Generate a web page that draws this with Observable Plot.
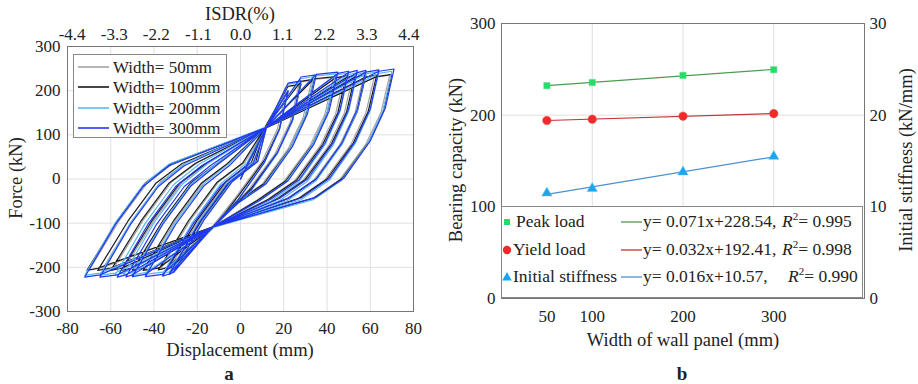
<!DOCTYPE html>
<html><head><meta charset="utf-8">
<script src="https://cdn.jsdelivr.net/npm/d3@7"></script>
<script src="https://cdn.jsdelivr.net/npm/@observablehq/plot@0.6"></script>
<style>
body{margin:0;background:#fff;}
#wrap{position:relative;width:918px;height:384px;font-family:"Liberation Serif","Times New Roman",serif;color:#222;overflow:hidden;}
#wrap svg.pl{position:absolute;top:0;}
.t{position:absolute;white-space:nowrap;font-size:18.5px;line-height:1;transform:translate(-50%,-50%);}
.rot{transform:translate(-50%,-50%) rotate(-90deg);}
.big{font-weight:bold;font-size:19px;}
.leg{position:absolute;background:#fff;border:1px solid #888;box-sizing:border-box;}
.row{position:absolute;white-space:nowrap;font-size:17px;line-height:1;}
.row svg{position:absolute;}
</style></head>
<body><div id="wrap"></div>
<script>
// ---------- Panel a data: hysteresis vertices [displacement mm, force kN] ----------
const seriesNames = ["Width= 50mm", "Width= 100mm", "Width= 200mm", "Width= 300mm"];
const seriesColors = ["#a3a3a3", "#1a1a1a", "#5cb8f5", "#2238f0"];
const dispTicks = [-80, -60, -40, -20, 0, 20, 40, 60, 80];
const forceTicks = [-300, -200, -100, 0, 100, 200, 300];
const isdrTicks = [-4.4, -3.3, -2.2, -1.1, 0.0, 1.1, 2.2, 3.3, 4.4];
const isdrLabels = ["-4.4", "-3.3", "-2.2", "-1.1", "0.0", "1.1", "2.2", "3.3", "4.4"];
const mmPerIsdr = 17.7;

const loop50 = [
 [0,0],[12,116],[21,196],[17,112],[10,40],[-2,-40],[-13,-108],[-31,-203],
 [-17,-91],[-4,-5],[8,39],[12,116],[21,208],[27,213],[23,129],[16,57],[4,-23],[-13,-108],[-31,-198],[-33,-203],
 [-19,-91],[-6,-5],[6,39],[12,116],[27,219],[33,224],[29,140],[22,68],[10,-12],[-3,-56],[-13,-108],[-33,-199],[-37,-204],
 [-23,-92],[-10,-6],[2,38],[12,116],[33,225],[43,230],[39,146],[32,74],[20,-6],[7,-50],[-13,-108],[-37,-200],[-44,-205],
 [-30,-93],[-17,-7],[-5,37],[12,116],[43,227],[48,232],[44,148],[37,76],[25,-4],[12,-48],[-13,-108],[-44,-200],[-49,-205],
 [-35,-93],[-22,-7],[-10,37],[12,116],[48,228],[52,233],[48,149],[41,77],[29,-3],[16,-47],[-13,-108],[-49,-200],[-54,-205],
 [-40,-93],[-27,-7],[-15,37],[12,116],[52,229],[57,234],[53,150],[46,78],[34,-2],[21,-46],[-13,-108],[-54,-200],[-59,-205],
 [-45,-93],[-32,-7],[-20,37],[12,116],[57,229],[62,234],[58,150],[51,78],[39,-2],[26,-46],[-13,-108],[-59,-200],[-64,-205],
 [-50,-93],[-37,-7],[-25,37],[12,116],[62,230],[69,235],[65,151],[58,79],[46,-1],[33,-45],[-13,-108],[-64,-201],[-70,-206],
 [-56,-94],[-43,-8],[-31,36],[12,116]
];
const loop100 = [
 [0,0],[11,114],[22,198],[18,114],[11,42],[-1,-38],[-12,-107],[-32,-205],
 [-18,-93],[-5,-7],[7,37],[11,114],[22,210],[28,215],[24,131],[17,59],[5,-21],[-12,-107],[-32,-200],[-34,-205],
 [-20,-93],[-7,-7],[5,37],[11,114],[28,221],[34,226],[30,142],[23,70],[11,-10],[-2,-54],[-12,-107],[-34,-201],[-38,-206],
 [-24,-94],[-11,-8],[1,36],[11,114],[34,227],[44,232],[40,148],[33,76],[21,-4],[8,-48],[-12,-107],[-38,-202],[-45,-207],
 [-31,-95],[-18,-9],[-6,35],[11,114],[44,229],[49,234],[45,150],[38,78],[26,-2],[13,-46],[-12,-107],[-45,-202],[-50,-207],
 [-36,-95],[-23,-9],[-11,35],[11,114],[49,230],[53,235],[49,151],[42,79],[30,-1],[17,-45],[-12,-107],[-50,-202],[-55,-207],
 [-41,-95],[-28,-9],[-16,35],[11,114],[53,231],[58,236],[54,152],[47,80],[35,0],[22,-44],[-12,-107],[-55,-202],[-60,-207],
 [-46,-95],[-33,-9],[-21,35],[11,114],[58,231],[63,236],[59,152],[52,80],[40,0],[27,-44],[-12,-107],[-60,-202],[-66,-207],
 [-52,-95],[-39,-9],[-27,35],[11,114],[63,232],[70,237],[66,153],[59,81],[47,1],[34,-43],[-12,-107],[-66,-202],[-71,-207],
 [-57,-95],[-44,-9],[-32,35],[11,114]
];
const loop200 = [
 [0,0],[12,118],[22,200],[18,112],[11,37],[-1,-46],[-13,-110],[-31,-210],
 [-17,-92],[-4,-5],[8,42],[12,118],[22,215],[28,220],[24,132],[17,57],[5,-26],[-13,-110],[-31,-208],[-33,-213],
 [-19,-95],[-6,-8],[6,39],[12,118],[28,227],[34,232],[30,144],[23,69],[11,-14],[-2,-58],[-13,-110],[-33,-210],[-36,-215],
 [-22,-97],[-9,-10],[3,37],[12,118],[34,233],[44,238],[40,150],[33,75],[21,-8],[8,-52],[-13,-110],[-36,-211],[-44,-216],
 [-30,-98],[-17,-11],[-5,36],[12,118],[44,235],[50,240],[46,152],[39,77],[27,-6],[14,-50],[-13,-110],[-44,-212],[-50,-217],
 [-36,-99],[-23,-12],[-11,35],[12,118],[50,236],[54,241],[50,153],[43,78],[31,-5],[18,-49],[-13,-110],[-50,-212],[-54,-217],
 [-40,-99],[-27,-12],[-15,35],[12,118],[54,237],[58,242],[54,154],[47,79],[35,-4],[22,-48],[-13,-110],[-54,-213],[-58,-218],
 [-44,-100],[-31,-13],[-19,34],[12,118],[58,238],[64,243],[60,155],[53,80],[41,-3],[28,-47],[-13,-110],[-58,-213],[-65,-218],
 [-51,-100],[-38,-13],[-26,34],[12,118],[64,239],[70,244],[66,156],[59,81],[47,-2],[34,-46],[-13,-110],[-65,-213],[-72,-218],
 [-58,-100],[-45,-13],[-33,34],[12,118]
];
const loop300 = [
 [0,0],[12,117],[22,200],[18,112],[11,37],[-1,-46],[-13,-109],[-31,-212],
 [-17,-94],[-4,-7],[8,40],[12,117],[22,217],[28,222],[24,134],[17,59],[5,-24],[-13,-109],[-31,-211],[-33,-216],
 [-19,-98],[-6,-11],[6,36],[12,117],[28,231],[35,236],[31,148],[24,73],[12,-10],[-1,-54],[-13,-109],[-33,-215],[-36,-220],
 [-22,-102],[-9,-15],[3,32],[12,117],[35,237],[45,242],[41,154],[34,79],[22,-4],[9,-48],[-13,-109],[-36,-216],[-44,-221],
 [-30,-103],[-17,-16],[-5,31],[12,117],[45,239],[50,244],[46,156],[39,81],[27,-2],[14,-46],[-13,-109],[-44,-216],[-50,-221],
 [-36,-103],[-23,-16],[-11,31],[12,117],[50,241],[54,246],[50,158],[43,83],[31,0],[18,-44],[-13,-109],[-50,-217],[-53,-222],
 [-39,-104],[-26,-17],[-14,30],[12,117],[54,241],[58,246],[54,158],[47,83],[35,0],[22,-44],[-13,-109],[-53,-217],[-57,-222],
 [-43,-104],[-30,-17],[-18,30],[12,117],[58,242],[64,247],[60,159],[53,84],[41,1],[28,-43],[-13,-109],[-57,-217],[-65,-222],
 [-51,-104],[-38,-17],[-26,30],[12,117],[64,244],[71,249],[67,161],[60,86],[48,3],[35,-41],[-13,-109],[-65,-217],[-72,-222],
 [-58,-104],[-45,-17],[-33,30],[12,117]
];
const loops = [loop50, loop100, loop200, loop300];

// ---------- Panel b data ----------
const widths = [50, 100, 200, 300];
const peakLoad = [232.2, 235.6, 243.4, 249.6];
const yieldLoad = [194.2, 195.6, 198.9, 201.7];
const initStiffness = [11.5, 12.0, 13.8, 15.5];
const widthTicks = [50, 100, 200, 300];
const capTicks = [0, 100, 200, 300];
const stiffTicks = [0, 10, 20, 30];
const legendB = [
  {name: "Peak load", eq: "y= 0.071x+228.54,", r2: "0.995"},
  {name: "Yield load", eq: "y= 0.032x+192.41,", r2: "0.998"},
  {name: "Initial stiffness", eq: "y= 0.016x+10.57,", r2: "0.990"}
];
const markColors = ["#22dd66", "#ee2a2a", "#1ba6ee"];
const lineColors = ["#4f9a4f", "#c83434", "#4f8fcc"];

const wrap = document.getElementById("wrap");
const font = {fontFamily: "'Liberation Serif','Times New Roman',serif", fontSize: "17px", color: "#222", background: "transparent", overflow: "visible"};

// ---------- Panel a ----------
const lineMarks = loops.map((pts, i) => Plot.line(pts, {x: d => d[0], y: d => d[1], stroke: seriesColors[i], strokeWidth: 1.2}));
const pa = Plot.plot({
  width: 440, height: 384,
  marginLeft: 67, marginRight: 27, marginTop: 46, marginBottom: 73,
  style: font,
  x: {domain: [-80, 80]},
  y: {domain: [-300, 300]},
  marks: [
    Plot.gridX(dispTicks, {stroke: "#e0e0e0", strokeOpacity: 1}),
    Plot.gridY(forceTicks, {stroke: "#e0e0e0", strokeOpacity: 1}),
    ...lineMarks,
    Plot.frame({stroke: "#777"}),
    Plot.axisX(dispTicks, {anchor: "bottom", tickSize: 0, tickPadding: 10, label: null, tickFormat: d => String(d)}),
    Plot.axisX(isdrTicks.map(v => v * mmPerIsdr), {anchor: "top", tickSize: 0, tickPadding: 7, label: null, tickFormat: (d, i) => isdrLabels[i]}),
    Plot.axisY(forceTicks, {anchor: "left", tickSize: 0, tickPadding: 7, label: null, tickFormat: d => String(d)})
  ]
});
pa.classList.add("pl"); pa.style.left = "0px";
wrap.appendChild(pa);

// ---------- Panel b ----------
const pb = Plot.plot({
  width: 478, height: 384,
  marginLeft: 61, marginRight: 54, marginTop: 23, marginBottom: 86,
  style: font,
  x: {domain: [0, 400]},
  y: {domain: [0, 300]},
  marks: [
    Plot.gridX([100, 200, 300], {stroke: "#e0e0e0", strokeOpacity: 1}),
    Plot.gridY([100, 200], {stroke: "#e0e0e0", strokeOpacity: 1}),
    Plot.linearRegressionY(widths, {x: d => d, y: (d, i) => peakLoad[i], stroke: lineColors[0], ci: 0, strokeWidth: 1.2}),
    Plot.linearRegressionY(widths, {x: d => d, y: (d, i) => yieldLoad[i], stroke: lineColors[1], ci: 0, strokeWidth: 1.2}),
    Plot.linearRegressionY(widths, {x: d => d, y: (d, i) => initStiffness[i] * 10, stroke: lineColors[2], ci: 0, strokeWidth: 1.2}),
    Plot.dot(widths, {x: d => d, y: (d, i) => peakLoad[i], symbol: "square", r: 3.6, fill: markColors[0], stroke: "#7ad99a", strokeWidth: 0.5}),
    Plot.dot(widths, {x: d => d, y: (d, i) => yieldLoad[i], symbol: "circle", r: 4.3, fill: markColors[1], stroke: "#f06060", strokeWidth: 0.5}),
    Plot.dot(widths, {x: d => d, y: (d, i) => initStiffness[i] * 10, symbol: "triangle", r: 3.8, fill: markColors[2], stroke: "#60bff0", strokeWidth: 0.5}),
    Plot.frame({stroke: "#777"}),
    Plot.axisX(widthTicks, {anchor: "bottom", tickSize: 0, tickPadding: 11, label: null, tickFormat: d => String(d)}),
    Plot.axisY(capTicks, {anchor: "left", tickSize: 0, tickPadding: 6, label: null, tickFormat: d => String(d)}),
    Plot.axisY(stiffTicks.map(v => v * 10), {anchor: "right", tickSize: 0, tickPadding: 5, label: null, tickFormat: (d, i) => String(stiffTicks[i])})
  ]
});
pb.classList.add("pl"); pb.style.left = "440px";
wrap.appendChild(pb);

// ---------- Text labels ----------
function txt(s, x, y, cls) {
  const el = document.createElement("div");
  el.className = "t " + (cls || "");
  el.style.left = x + "px"; el.style.top = y + "px";
  el.innerHTML = s;
  wrap.appendChild(el);
}
txt("ISDR(%)", 240, 14);
txt("Displacement (mm)", 240, 350);
txt("a", 229, 373, "big");
txt("Force (kN)", 16, 178, "rot");
txt("Bearing capacity (kN)", 456, 160, "rot");
txt("Initial stiffness (kN/mm)", 906, 160, "rot");
txt("Width of wall panel (mm)", 683, 340);
txt("b", 682, 373, "big");

// ---------- Legend a ----------
const la = document.createElement("div");
la.className = "leg";
Object.assign(la.style, {left: "73px", top: "54px", width: "154px", height: "84px"});
wrap.appendChild(la);
const legYs = [67, 87, 108, 128];
seriesNames.forEach((nm, i) => {
  const r = document.createElement("div");
  r.className = "row";
  Object.assign(r.style, {left: "78px", top: (legYs[i] - 8) + "px", height: "16px", width: "150px"});
  r.innerHTML = `<svg width="32" height="16" style="left:0;top:0"><line x1="0" y1="8" x2="31" y2="8" stroke="${seriesColors[i]}" stroke-width="1.6"/></svg><span style="position:absolute;left:35px;top:0px;">${nm}</span>`;
  wrap.appendChild(r);
});

// ---------- Legend b ----------
const lb = document.createElement("div");
lb.className = "leg";
Object.assign(lb.style, {left: "501px", top: "206px", width: "362px", height: "92px"});
wrap.appendChild(lb);
const legBYs = [222, 250, 277];
const syms = [
  c => `<rect x="3" y="5" width="6" height="6" fill="${c}"/>`,
  c => `<circle cx="6" cy="8" r="4.2" fill="${c}"/>`,
  c => `<path d="M6,3 L10.8,11.5 L1.2,11.5 Z" fill="${c}"/>`
];
legendB.forEach((e, i) => {
  const y = legBYs[i] - 9;
  const r = document.createElement("div");
  r.className = "row";
  Object.assign(r.style, {left: "501px", top: y + "px", height: "18px", width: "360px", fontSize: "17.5px"});
  r.innerHTML = `<svg width="12" height="16" style="left:0;top:1px">${syms[i](markColors[i])}</svg>`
    + `<span style="position:absolute;left:${i===0?15:12}px;top:0">${e.name}</span>`
    + `<svg width="22" height="16" style="left:120px;top:1px"><line x1="0" y1="8" x2="21" y2="8" stroke="${lineColors[i]}" stroke-width="1.3"/></svg>`
    + `<span style="position:absolute;left:142px;top:0">${e.eq}</span>`
    + `<span style="position:absolute;left:${i===2?287:281}px;top:0"><i>R</i><sup style="font-size:11px;vertical-align:7px;line-height:0">2</sup>= ${e.r2}</span>`;
  wrap.appendChild(r);
});
</script></body></html>
